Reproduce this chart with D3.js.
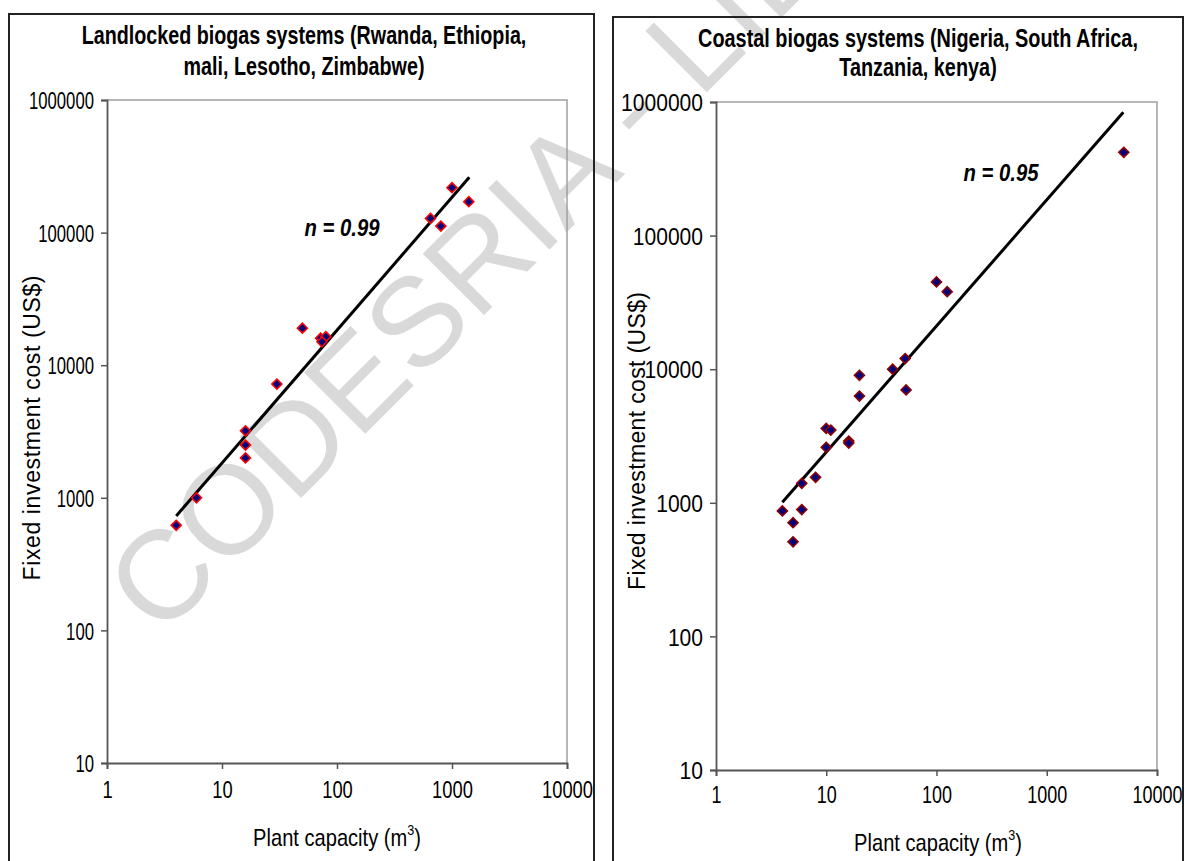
<!DOCTYPE html>
<html><head><meta charset="utf-8">
<script src="https://cdn.jsdelivr.net/npm/d3@7"></script>
<style>
body{margin:0;background:#fff}
svg{display:block}
text{font-family:"Liberation Sans", Arial, sans-serif}
</style>
</head><body>
<svg id="c" width="1187" height="861"></svg>
<script>
// ---------- data ----------
const xTickValues = [1, 10, 100, 1000, 10000];
const yTickValues = [10, 100, 1000, 10000, 100000, 1000000];

const landCapacity = [4, 6, 16, 16, 16, 30, 50, 72, 80, 74, 650, 800, 1000, 1400];
const landCost     = [620, 1000, 3200, 2500, 2000, 7200, 19000, 16000, 16400, 15000, 128000, 112000, 218000, 171000];
const landTrendX   = [4, 1414];
const landTrendY   = [730, 261000];

const coastCapacity = [4, 5, 5, 6, 6, 8, 10, 11, 10, 16, 16, 20, 20, 40, 52, 53, 100, 125, 5000];
const coastCost     = [870, 710, 510, 890, 1400, 1550, 3600, 3500, 2600, 2900, 2800, 9000, 6300, 10000, 12000, 7000, 45000, 38000, 420000];
const coastTrendX   = [4, 4950];
const coastTrendY   = [1010, 837000];

const landTitle  = ["Landlocked biogas systems (Rwanda, Ethiopia,", "mali, Lesotho, Zimbabwe)"];
const coastTitle = ["Coastal biogas systems (Nigeria, South Africa,", "Tanzania, kenya)"];
const landN  = "n = 0.99";
const coastN = "n = 0.95";
const yAxisTitle = "Fixed investment cost (US$)";
const xAxisTitle = "Plant capacity (m";
const xAxisSup = "3";
const watermark = "CODESRIA - LIBRARY";

// ---------- layout ----------
const svg = d3.select("#c");
svg.append("rect").attr("width",1187).attr("height",861).attr("fill","#fff");

// watermark (behind)
svg.append("text")
  .attr("transform","translate(160,639) rotate(-45)")
  .attr("font-size",126)
  .attr("fill","#d9d9d9")
  .text(watermark);

// place text compressed horizontally to a target width (keeps real text)
function squeezeText(sel, cx, cy, width){
  const w = sel.node().getComputedTextLength();
  const sx = width / w;
  sel.attr("x",0).attr("y",0).attr("transform",`translate(${cx},${cy}) scale(${sx},1)`);
  return sx;
}

const panels = [
  {box:[9,14,585,870], plot:[107,567,100,763], title:landTitle, titleCx:304, titleBase:[44,75], titleW:445,
   xs:landCapacity, ys:landCost, tx:landTrendX, ty:landTrendY, stroke:"#ff0000",
   n:landN, nPos:[342,236], nW:75, yDigitW:9.3, xDigitW:10.2, xLabY:798, xTitleY:846, xTitleCx:337, xTitleW:168,
   yTitle:[40,428], yTitleW:305},
  {box:[613,17,570,870], plot:[716,1157,102,770], title:coastTitle, titleCx:918, titleBase:[47,76], titleW:440,
   xs:coastCapacity, ys:coastCost, tx:coastTrendX, ty:coastTrendY, stroke:"#8b0000",
   n:coastN, nPos:[1001,181], nW:75, yDigitW:11.7, xDigitW:10, xLabY:803, xTitleY:851, xTitleCx:938, xTitleW:168,
   yTitle:[645,441], yTitleW:298}
];

panels.forEach(p => {
  const g = svg.append("g");
  // panel border
  g.append("rect").attr("x",p.box[0]).attr("y",p.box[1]).attr("width",p.box[2]).attr("height",p.box[3])
    .attr("fill","none").attr("stroke","#222").attr("stroke-width",2);

  // titles (same horizontal squeeze for both lines)
  let sx = 1;
  p.title.forEach((t,i) => {
    const tt = g.append("text").attr("text-anchor","middle").attr("font-size",25).attr("font-weight","bold")
      .attr("fill","#000").text(t);
    if (i === 0) {
      sx = squeezeText(tt, p.titleCx, p.titleBase[i], p.titleW);
    } else {
      tt.attr("transform",`translate(${p.titleCx},${p.titleBase[i]}) scale(${sx},1)`);
    }
  });

  const x = d3.scaleLog().domain([1,10000]).range([p.plot[0],p.plot[1]]);
  const y = d3.scaleLog().domain([10,1000000]).range([p.plot[3],p.plot[2]]);

  // plot frame (top/right light gray)
  g.append("path")
    .attr("d",`M${x(1)},${y(1e6)}H${x(1e4)}V${y(10)}`)
    .attr("fill","none").attr("stroke","#a0a0a0").attr("stroke-width",1.5);

  // y axis
  const ya = g.append("g").attr("transform",`translate(${x(1)},0)`)
    .call(d3.axisLeft(y).tickValues(yTickValues).tickFormat(d3.format("d")).tickSize(6).tickPadding(7));
  ya.attr("font-size",null).attr("font-family",null);
  ya.select(".domain").attr("stroke","#555").attr("stroke-width",1.8);
  ya.selectAll(".tick line").attr("stroke","#555").attr("stroke-width",1.5);
  ya.selectAll(".tick text").style("font-size","24px")
    .attr("fill","#000").attr("dy","0.36em")
    .each(function(d){ const s = String(d); d3.select(this).attr("textLength", s.length*p.yDigitW).attr("lengthAdjust","spacingAndGlyphs"); });

  // x axis
  const xa = g.append("g").attr("transform",`translate(0,${y(10)})`)
    .call(d3.axisBottom(x).tickValues(xTickValues).tickFormat(d3.format("d")).tickSize(6).tickPadding(0));
  xa.attr("font-size",null).attr("font-family",null);
  xa.select(".domain").attr("stroke","#555").attr("stroke-width",1.8);
  xa.selectAll(".tick line").attr("stroke","#555").attr("stroke-width",1.5);
  xa.selectAll(".tick text").style("font-size","24px")
    .attr("fill","#000").attr("dy",null).attr("y", p.xLabY - y(10))
    .each(function(d){ const s = String(d); d3.select(this).attr("textLength", s.length*p.xDigitW).attr("lengthAdjust","spacingAndGlyphs"); });

  // x axis title
  const xt = g.append("text").attr("text-anchor","middle").attr("font-size",24).attr("fill","#000");
  xt.append("tspan").text(xAxisTitle);
  xt.append("tspan").attr("font-size",15).attr("dy",-11).text(xAxisSup);
  xt.append("tspan").attr("dy",11).text(")");
  squeezeText(xt, p.xTitleCx, p.xTitleY, p.xTitleW);

  // y axis title
  g.append("text").attr("transform",`translate(${p.yTitle[0]},${p.yTitle[1]}) rotate(-90)`)
    .attr("text-anchor","middle").attr("font-size",23).attr("fill","#000")
    .attr("textLength",p.yTitleW).attr("lengthAdjust","spacing")
    .text(yAxisTitle);

  // trend line
  const line = d3.line().x(d=>x(d[0])).y(d=>y(d[1]));
  g.append("path").datum(d3.zip(p.tx,p.ty)).attr("d",line)
    .attr("fill","none").attr("stroke","#000").attr("stroke-width",3);

  // points
  const sym = d3.symbol(d3.symbolSquare, 50);
  g.selectAll(".pt").data(d3.zip(p.xs,p.ys)).join("path")
    .attr("class","pt")
    .attr("d",sym)
    .attr("transform",d=>`translate(${x(d[0])},${y(d[1])}) rotate(45)`)
    .attr("fill","#000080").attr("stroke",p.stroke).attr("stroke-width",1.6);

  // n label
  g.append("text").attr("x",p.nPos[0]).attr("y",p.nPos[1]).attr("text-anchor","middle")
    .attr("font-size",23).attr("font-weight","bold").attr("font-style","italic")
    .attr("textLength",p.nW).attr("lengthAdjust","spacingAndGlyphs")
    .attr("fill","#000").text(p.n);
});
</script>
</body></html>
